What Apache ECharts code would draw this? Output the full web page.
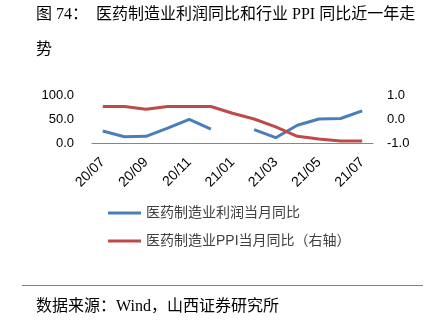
<!DOCTYPE html>
<html>
<head>
<meta charset="utf-8">
<script src="https://cdn.jsdelivr.net/npm/echarts@6/dist/echarts.min.js"></script>
<style>
  html, body { margin: 0; padding: 0; background: #fff; }
  #chart { width: 437px; height: 323px; }
</style>
</head>
<body>
<div id="chart"></div>
<script>
// Months, last year of data
var months = ['20/07','20/08','20/09','20/10','20/11','20/12','21/01','21/02','21/03','21/04','21/05','21/06','21/07'];
// Pharmaceutical manufacturing profit, YoY % (Jan data not published separately)
var profitYoY = [25, 13, 14, 31, 49, 29, null, 28, 11, 37, 50, 51, 67];
// Pharmaceutical manufacturing PPI, YoY % (right axis)
var ppiYoY = [0.52, 0.52, 0.41, 0.52, 0.52, 0.52, 0.24, 0.0, -0.33, -0.72, -0.83, -0.92, -0.92];

var seriesNames = ['医药制造业利润当月同比', '医药制造业PPI当月同比（右轴）'];

var cjk = '"Liberation Serif", "Noto Sans CJK SC", serif';
var sans = '"Liberation Sans", "Noto Sans CJK SC", sans-serif';

var chart = echarts.init(document.getElementById('chart'), null, { renderer: 'canvas' });
chart.setOption({
  animation: false,
  backgroundColor: '#ffffff',
  title: [
    { text: '图 74：  医药制造业利润同比和行业 PPI 同比近一年走', left: 31, top: 2,
      textStyle: { fontSize: 16, fontWeight: 'normal', color: '#000', fontFamily: cjk } },
    { text: '势', left: 31, top: 37,
      textStyle: { fontSize: 16, fontWeight: 'normal', color: '#000', fontFamily: cjk } },
    { text: '数据来源：Wind，山西证券研究所', left: 31, top: 294,
      textStyle: { fontSize: 16, fontWeight: 'normal', color: '#000', fontFamily: cjk } }
  ],
  graphic: [
    { type: 'line', shape: { x1: 22, y1: 285.5, x2: 423, y2: 285.5 },
      style: { stroke: '#7f7f7f', lineWidth: 1 } }
  ],
  legend: {
    orient: 'vertical',
    left: 108,
    top: 206,
    padding: 0,
    itemGap: 14,
    itemWidth: 33,
    itemHeight: 3,
    icon: 'rect',
    textStyle: { fontSize: 14, color: '#404040', fontFamily: sans },
    data: seriesNames
  },
  grid: { left: 92, right: 64, top: 95, bottom: 180, containLabel: false },
  xAxis: {
    type: 'category',
    data: months,
    boundaryGap: true,
    axisLine: { lineStyle: { color: '#868686', width: 1 } },
    axisTick: { show: false },
    axisLabel: { interval: 1, rotate: 45, fontSize: 14, color: '#000', fontFamily: sans, margin: 17 }
  },
  yAxis: [
    { type: 'value', min: 0, max: 100, interval: 50,
      axisLine: { show: false }, axisTick: { show: false }, splitLine: { show: false },
      axisLabel: { fontSize: 13, color: '#000', fontFamily: sans, margin: 18,
        formatter: function (v) { return v.toFixed(1); } } },
    { type: 'value', min: -1, max: 1, interval: 1,
      axisLine: { show: false }, axisTick: { show: false }, splitLine: { show: false },
      axisLabel: { fontSize: 13, color: '#000', fontFamily: sans, margin: 14,
        formatter: function (v) { return v.toFixed(1); } } }
  ],
  series: [
    { name: seriesNames[0], type: 'line', yAxisIndex: 0, data: profitYoY,
      showSymbol: false, connectNulls: false,
      lineStyle: { color: '#4a7ebb', width: 3 }, itemStyle: { color: '#4a7ebb' } },
    { name: seriesNames[1], type: 'line', yAxisIndex: 1, data: ppiYoY,
      showSymbol: false,
      lineStyle: { color: '#be4b48', width: 3 }, itemStyle: { color: '#be4b48' } }
  ]
});
</script>
</body>
</html>
